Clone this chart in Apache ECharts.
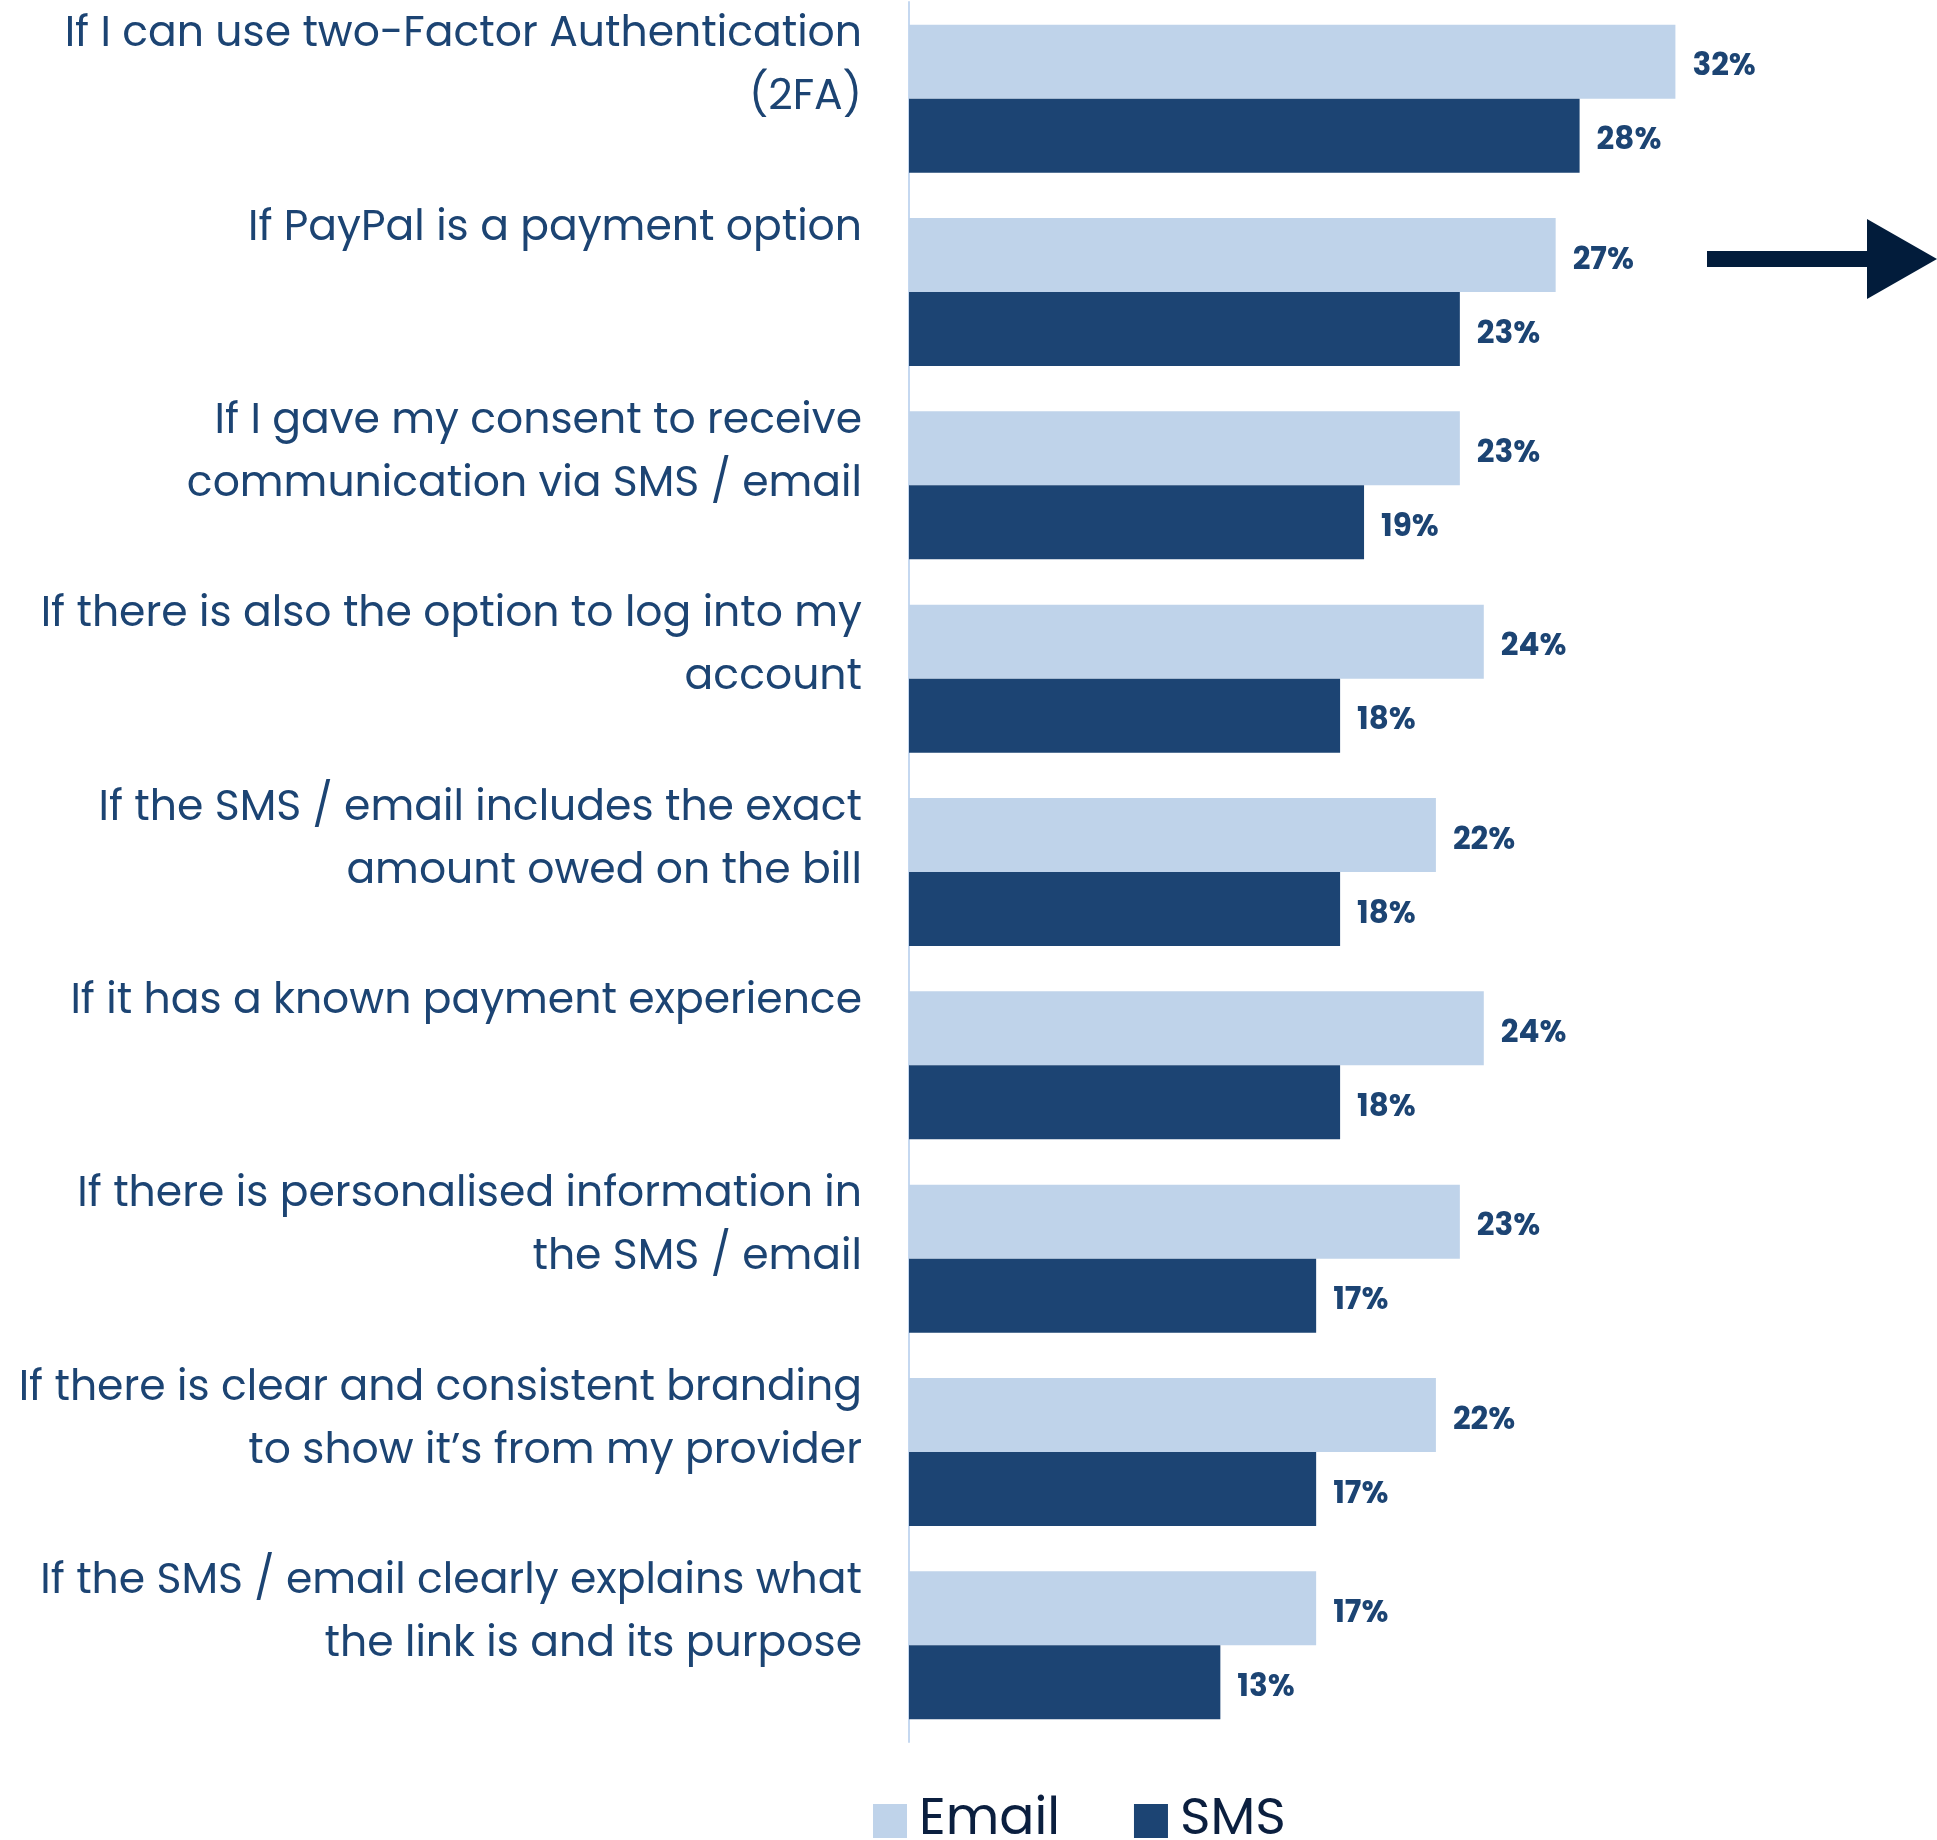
<!DOCTYPE html>
<html>
<head>
<meta charset="utf-8">
<title>Payment message trust factors</title>
<script src="https://cdn.jsdelivr.net/npm/echarts@6/dist/echarts.min.js"></script>
<style>
  html, body { margin: 0; padding: 0; background: #ffffff; }
  #chart { width: 1937px; height: 1840px; }
</style>
</head>
<body>
<div id="chart"></div>
<script>
// Statements, top to bottom
const categories = [
  'If I can use two-Factor Authentication\n(2FA)',
  'If PayPal is a payment option',
  'If I gave my consent to receive\ncommunication via SMS / email',
  'If there is also the option to log into my\naccount',
  'If the SMS / email includes the exact\namount owed on the bill',
  'If it has a known payment experience',
  'If there is personalised information in\nthe SMS / email',
  'If there is clear and consistent branding\nto show it\u2019s from my provider',
  'If the SMS / email clearly explains what\nthe link is and its purpose'
];

// Share of respondents (%)
const emailValues = [32, 27, 23, 24, 22, 24, 23, 22, 17];
const smsValues   = [28, 23, 19, 18, 18, 18, 17, 17, 13];

const seriesNames = ['Email', 'SMS'];

const FONT = "Poppins, 'Noto Sans', sans-serif";
const LIGHT = '#BFD3EA';
const DARK = '#1C4473';
const TEXT = '#1C4473';
const NAVY = '#021C3B';

const chart = echarts.init(document.getElementById('chart'), null, { renderer: 'canvas' });

const valueLabel = {
  show: true,
  position: 'right',
  distance: 17,
  offset: [0, 6],
  formatter: p => p.value + '%',
  color: TEXT,
  fontFamily: FONT,
  fontWeight: 'bold',
  fontSize: 31
};

// Pad every label to three lines so that, centred on its band,
// the first line always lines up with the top of the bar group.
function padLines(v) {
  const n = v.split('\n').length;
  let out = v;
  for (let i = n; i < 3; i++) out += '\n ';
  return out;
}

chart.setOption({
  animation: false,
  backgroundColor: '#ffffff',
  textStyle: { fontFamily: FONT },
  grid: { left: 909, top: 2, width: 958, height: 1740, containLabel: false },
  xAxis: {
    type: 'value',
    min: 0,
    max: 40,
    show: false
  },
  yAxis: {
    type: 'category',
    data: categories,
    inverse: true,
    axisLine: { show: true, lineStyle: { color: '#C5D8F0', width: 2 } },
    axisTick: { show: false },
    splitLine: { show: false },
    axisLabel: {
      formatter: padLines,
      color: TEXT,
      fontFamily: FONT,
      fontSize: 42.5,
      lineHeight: 63,
      align: 'right',
      verticalAlign: 'middle',
      margin: 47
    }
  },
  legend: {
    data: seriesNames,
    left: 868,
    top: 1786,
    orient: 'horizontal',
    icon: 'rect',
    itemWidth: 34,
    itemHeight: 34,
    itemGap: 74,
    selectedMode: false,
    textStyle: {
      color: '#0B1F3F',
      fontFamily: FONT,
      fontSize: 52,
      lineHeight: 60,
      padding: [0, 0, 0, 7]
    }
  },
  series: [
    {
      name: seriesNames[0],
      type: 'bar',
      data: emailValues,
      barWidth: 74,
      barGap: '0%',
      itemStyle: { color: LIGHT },
      label: valueLabel
    },
    {
      name: seriesNames[1],
      type: 'bar',
      data: smsValues,
      barWidth: 74,
      barGap: '0%',
      itemStyle: { color: DARK },
      label: valueLabel
    }
  ],
  graphic: [
    {
      type: 'group',
      children: [
        { type: 'rect', shape: { x: 1707, y: 251, width: 162, height: 16 }, style: { fill: NAVY } },
        { type: 'polygon', shape: { points: [[1867, 219], [1937, 259], [1867, 299]] }, style: { fill: NAVY } }
      ]
    }
  ]
});
</script>
</body>
</html>
